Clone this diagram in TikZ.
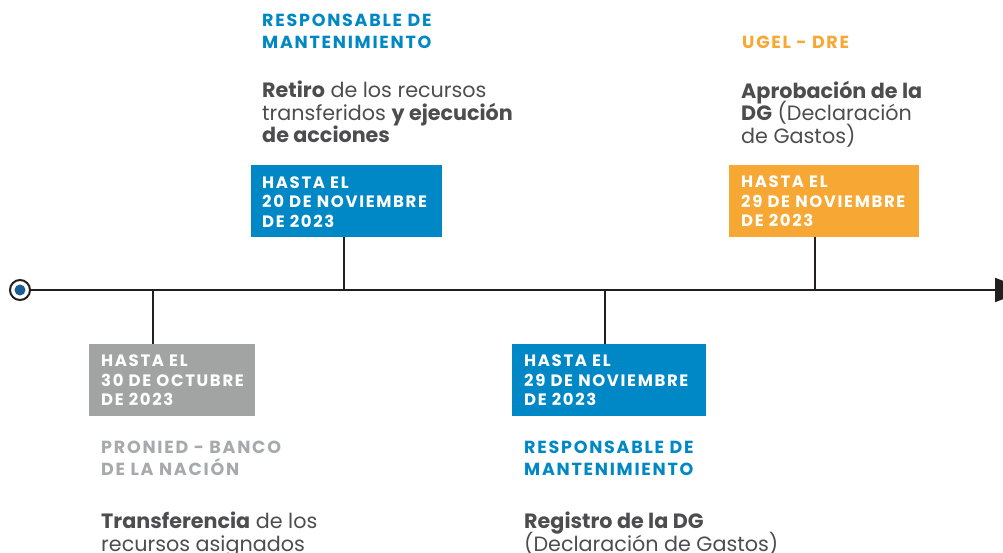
\documentclass[tikz,border=0pt]{standalone}
\usepackage{fontspec}
\setmainfont{Poppins}
\newfontfamily\trackedfont{Poppins}[LetterSpace=10]
\usetikzlibrary{arrows.meta}

\definecolor{hitoblue}{HTML}{0088C6}
\definecolor{hitoorange}{HTML}{F7A733}
\definecolor{hitogray}{HTML}{A2A4A3}
\definecolor{headgray}{HTML}{A7A9AC}
\definecolor{bodygray}{HTML}{4D4D4F}
\definecolor{linedark}{HTML}{231F20}
\definecolor{dotblue}{HTML}{1B5E93}

\newcommand\fixedlines{\lineskiplimit=-20pt\relax}

\begin{document}
\begin{tikzpicture}[x=1pt,y=-1pt,
    axis/.style={draw=linedark, line width=2pt, -{Triangle[length=32pt,width=24pt]}},
    tick/.style={draw=linedark, line width=1.6pt},
    datebox/.style={rectangle, anchor=north west, minimum height=72pt, inner sep=0pt},
    datetext/.style={anchor=north west, inner sep=0pt, align=left, text=white,
      font={\trackedfont\bfseries\fontsize{16.5}{19.5}\selectfont\fixedlines}},
    headtext/.style={anchor=north west, inner sep=0pt, align=left,
      font={\trackedfont\bfseries\fontsize{17.5}{22}\selectfont\fixedlines}},
    bodytext/.style={anchor=north west, inner sep=0pt, align=left, text=bodygray,
      font={\fontsize{20.7}{22.3}\selectfont\fixedlines}}]
  \useasboundingbox (0,0) rectangle (1003,552);

  % Draw the time line
  \node[circle, draw=linedark, line width=2pt, fill=white, minimum size=20pt, inner sep=0pt,
    path picture={\fill[dotblue] (path picture bounding box.center) circle (5.5pt);}]
    (start) at (20,290) {};
  \coordinate (end) at (1027,290);
  \draw[axis] (start) -- (end);

  % Points on the line
  \coordinate (ta) at (153,290);
  \coordinate (tb) at (344,290);
  \coordinate (tc) at (605,290);
  \coordinate (td) at (815,290);

  % Date boxes
  \node[datebox, fill=hitogray, minimum width=166pt] (boxa) at (89,344) {};
  \node[datebox, fill=hitoblue, minimum width=191pt] (boxb) at (251,165) {};
  \node[datebox, fill=hitoblue, minimum width=194pt] (boxc) at (512,344) {};
  \node[datebox, fill=hitoorange, minimum width=190pt] (boxd) at (729,165) {};

  \draw[tick] (ta) -- (ta |- boxa.north);
  \draw[tick] (tb) -- (tb |- boxb.south);
  \draw[tick] (tc) -- (tc |- boxc.north);
  \draw[tick] (td) -- (td |- boxd.south);

  \node[datetext] (datea) at ([shift={(12,11)}]boxa.north west) {HASTA EL\\30 DE OCTUBRE\\DE 2023};
  \node[datetext] (dateb) at ([shift={(11,11.5)}]boxb.north west) {HASTA EL\\20 DE NOVIEMBRE\\DE 2023};
  \node[datetext] (datec) at ([shift={(12,11)}]boxc.north west) {HASTA EL\\29 DE NOVIEMBRE\\DE 2023};
  \node[datetext] (dated) at ([shift={(12,11)}]boxd.north west) {HASTA EL\\29 DE NOVIEMBRE\\DE 2023};

  % Who is in charge
  \node[headtext, text=headgray] (heada) at (101,441) {PRONIED - BANCO\\DE LA NACIÓN};
  \node[headtext, text=hitoblue] (headb) at (262,14) {RESPONSABLE DE\\MANTENIMIENTO};
  \node[headtext, text=hitoblue] (headc) at (524,441) {RESPONSABLE DE\\MANTENIMIENTO};
  \node[headtext, text=hitoorange] (headd) at (742,36) {UGEL - DRE};

  % What is done
  \node[bodytext] (taska) at (101,512) {\textbf{Transferencia} de los\\recursos asignados};
  \node[bodytext] (taskb) at (262,81) {\textbf{Retiro} de los recursos\\transferidos \textbf{y ejecución}\\\textbf{de acciones}};
  \node[bodytext] (taskc) at (524,512) {\textbf{Registro de la DG}\\(Declaración de Gastos)};
  \node[bodytext] (taskd) at (741,81) {\textbf{Aprobación de la}\\\textbf{DG} (Declaración\\de Gastos)};
\end{tikzpicture}
\end{document}
